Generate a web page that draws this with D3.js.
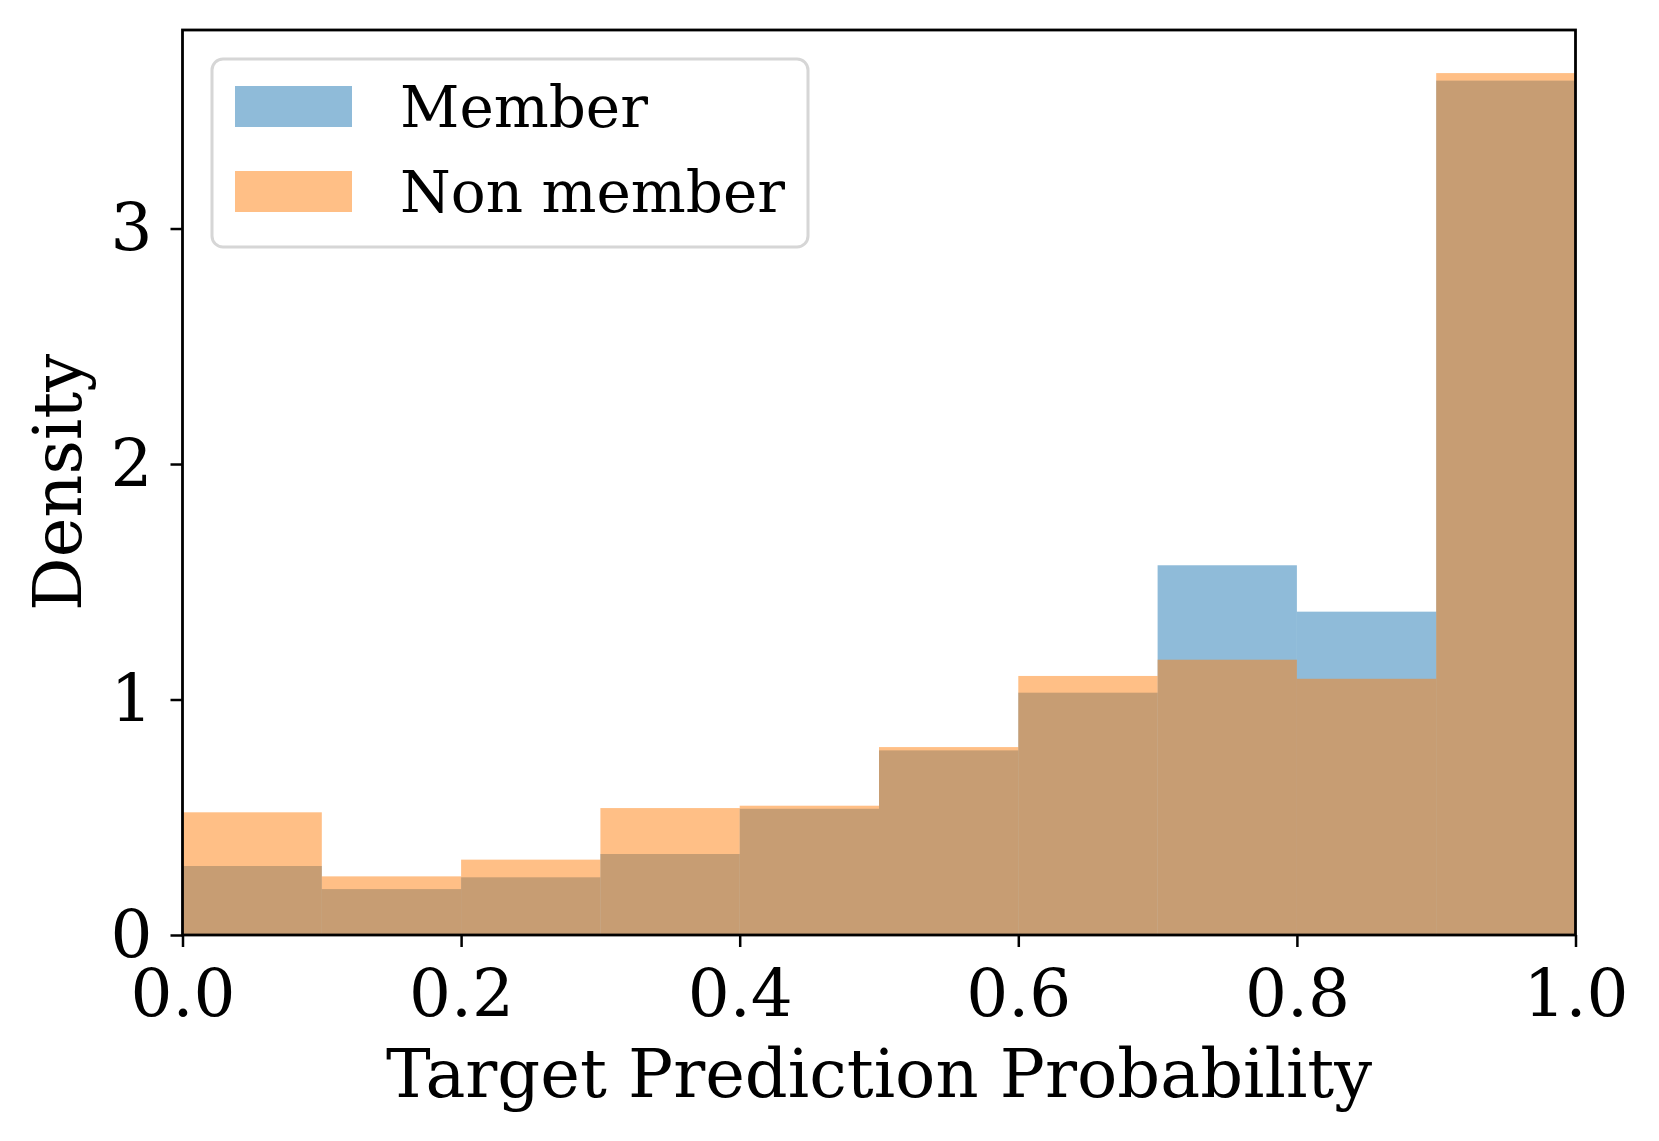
<!DOCTYPE html>
<html>
<head>
<meta charset="utf-8">
<script src="https://cdn.jsdelivr.net/npm/d3@7"></script>
<style>
  html, body { margin: 0; padding: 0; background: #fff; }
  svg { display: block; }
  text { font-family: "DejaVu Serif", serif; fill: #000; }
</style>
</head>
<body>
<svg id="chart" width="1659" height="1141"></svg>
<script>
// ---- data ----
const binEdges = [0.0, 0.1, 0.2, 0.3, 0.4, 0.5, 0.6, 0.7, 0.8, 0.9, 1.0];
const memberDensity = [0.293, 0.195, 0.245, 0.344, 0.536, 0.784, 1.029, 1.570, 1.373, 3.628];
const nonMemberDensity = [0.521, 0.249, 0.320, 0.539, 0.549, 0.798, 1.100, 1.169, 1.088, 3.660];
const seriesNames = ["Member", "Non member"];
const xTicks = [0.0, 0.2, 0.4, 0.6, 0.8, 1.0];
const yTicks = [0, 1, 2, 3];
const xLabel = "Target Prediction Probability";
const yLabel = "Density";

// ---- layout ----
const svg = d3.select("#chart");
const L = 182.5, R = 1575.5, T = 30, B = 935;
const yMax = d3.max(nonMemberDensity.concat(memberDensity)) * 1.05;

const x = d3.scaleLinear().domain([0, 1]).range([L, R]);
const y = d3.scaleLinear().domain([0, yMax]).range([B, T]);

const colors = ["#1f77b4", "#ff7f0e"];
const series = [memberDensity, nonMemberDensity];

const plot = svg.append("g");
series.forEach((vals, si) => {
  plot.append("g").selectAll("rect")
    .data(vals)
    .join("rect")
    .attr("x", (d, i) => x(binEdges[i]))
    .attr("width", (d, i) => x(binEdges[i + 1]) - x(binEdges[i]))
    .attr("y", d => y(d))
    .attr("height", d => y(0) - y(d))
    .attr("fill", colors[si])
    .attr("fill-opacity", 0.5);
});

// ---- axes ----
const tickFs = 66, labelFs = 67, legendFs = 58;
const xAxis = d3.axisBottom(x).tickValues(xTicks).tickFormat(d3.format(".1f"))
  .tickSizeInner(12).tickSizeOuter(0).tickPadding(22);
const gx = svg.append("g").attr("transform", `translate(0,${B})`).call(xAxis);
gx.select(".domain").remove();
gx.selectAll(".tick line").attr("stroke", "#000").attr("stroke-width", 2.5);
gx.selectAll(".tick text").style("font-size", tickFs + "px").attr("font-family", "DejaVu Serif");

const yAxis = d3.axisLeft(y).tickValues(yTicks).tickFormat(d3.format("d"))
  .tickSizeInner(12).tickSizeOuter(0).tickPadding(18);
const gy = svg.append("g").attr("transform", `translate(${L},0)`).call(yAxis);
gy.select(".domain").remove();
gy.selectAll(".tick line").attr("stroke", "#000").attr("stroke-width", 2.5);
gy.selectAll(".tick text").style("font-size", tickFs + "px").attr("font-family", "DejaVu Serif");

// spines
svg.append("rect")
  .attr("x", L).attr("y", T).attr("width", R - L).attr("height", B - T)
  .attr("fill", "none").attr("stroke", "#000").attr("stroke-width", 2.8);

// axis labels
svg.append("text")
  .attr("x", (L + R) / 2).attr("y", 1097)
  .attr("text-anchor", "middle")
  .style("font-size", labelFs + "px")
  .text(xLabel);

svg.append("text")
  .attr("transform", `translate(81,${(T + B) / 2}) rotate(-90)`)
  .attr("text-anchor", "middle")
  .style("font-size", labelFs + "px")
  .text(yLabel);

// ---- legend ----
const lg = svg.append("g");
lg.append("rect")
  .attr("x", 212).attr("y", 59).attr("width", 596).attr("height", 188)
  .attr("rx", 11).attr("ry", 11)
  .attr("fill", "#fff").attr("fill-opacity", 0.8)
  .attr("stroke", "#d6d6d6").attr("stroke-width", 3);
const legY = [86, 171];
seriesNames.forEach((name, i) => {
  lg.append("rect")
    .attr("x", 235).attr("y", legY[i]).attr("width", 117).attr("height", 41)
    .attr("fill", colors[i]).attr("fill-opacity", 0.5);
  lg.append("text")
    .attr("x", 400).attr("y", legY[i] + 41)
    .style("font-size", legendFs + "px")
    .text(name);
});
</script>
</body>
</html>
